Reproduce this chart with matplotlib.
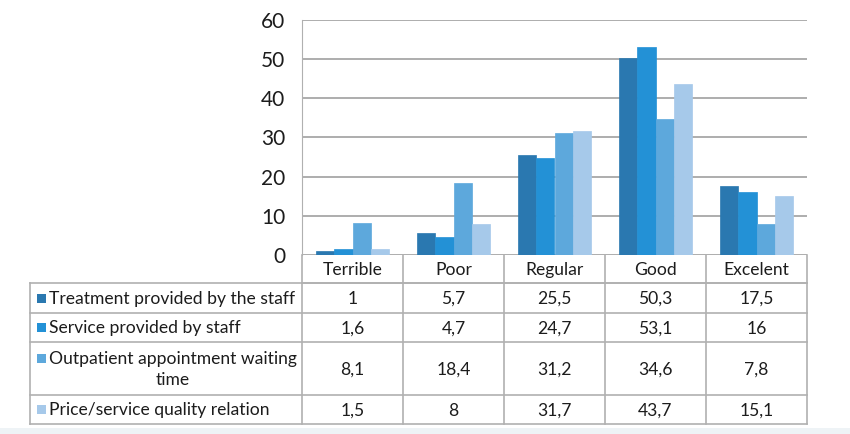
import matplotlib
matplotlib.use("Agg")
from matplotlib import pyplot as plt
from matplotlib.patches import Rectangle
import numpy as np

categories = ["Terrible", "Poor", "Regular", "Good", "Excelent"]
series_names = ["Treatment provided by the staff",
                "Service provided by staff",
                "Outpatient appointment waiting\ntime",
                "Price/service quality relation"]
treatment = [1, 5.7, 25.5, 50.3, 17.5]
service = [1.6, 4.7, 24.7, 53.1, 16]
waiting = [8.1, 18.4, 31.2, 34.6, 7.8]
price = [1.5, 8, 31.7, 43.7, 15.1]
series = [treatment, service, waiting, price]
colors = ["#2a78b0", "#2391d6", "#5da8dc", "#a6c9ea"]

plt.rcParams['font.family'] = ['Lato', 'DejaVu Sans']
txt_c = '#1c1c1c'

W, H = 850, 434
fig = plt.figure(figsize=(W / 100, H / 100), dpi=100)

# pixel layout
px_left, px_right, px_top, px_zero = 302, 807, 20, 255
ax = fig.add_axes([px_left / W, 1 - px_zero / H,
                   (px_right - px_left) / W, (px_zero - px_top) / H])

x = np.arange(len(categories))
bw = 0.18
for i, vals in enumerate(series):
    ax.bar(x + (i - 1.5) * bw, vals, bw, color=colors[i], zorder=3,
           edgecolor=colors[i], linewidth=0.5)

ax.set_xlim(-0.5, len(categories) - 0.5)
ax.set_ylim(0, 60)
ax.set_yticks(range(0, 61, 10))
ax.set_xticks([])
ax.tick_params(axis='y', length=0, labelsize=15, pad=12, labelcolor=txt_c)
ax.grid(axis='y', color='#a0a0a0', linewidth=1.2, zorder=0)
for s in ['top', 'right', 'bottom']:
    ax.spines[s].set_visible(False)
ax.spines['left'].set_color('#b0b0b0')

# data table underneath
tax = fig.add_axes([0, 0, 1, 1])
tax.set_xlim(0, W)
tax.set_ylim(H, 0)
tax.axis('off')
tax.add_patch(Rectangle((0, 428), W, 6, color='#eef3f6', lw=0))

line_c = '#b0b0b0'
col_w = (px_right - px_left) / len(categories)
row_edges = [283, 313, 342, 395, 424]
tab_left = 30
fs = 12.6
line_h = 21

# header row (categories)
tax.plot([px_left, px_right], [283, 283], color=line_c, lw=1.2)
for j in range(len(categories) + 1):
    xx = px_left + j * col_w
    tax.plot([xx, xx], [px_zero, row_edges[-1]], color=line_c, lw=1.2)
for j, c in enumerate(categories):
    tax.text(px_left + (j + 0.5) * col_w, (px_zero + 283) / 2 + 1, c,
             ha='center', va='center', fontsize=fs, color=txt_c)

for r in row_edges:
    tax.plot([tab_left, px_right], [r, r], color=line_c, lw=1.2)
tax.plot([tab_left, tab_left], [row_edges[0], row_edges[-1]], color=line_c, lw=1.2)

for i, name in enumerate(series_names):
    yc = (row_edges[i] + row_edges[i + 1]) / 2
    n_lines = name.count('\n') + 1
    sw_y = yc - (n_lines - 1) * line_h / 2
    tax.add_patch(Rectangle((37, sw_y - 4.5), 9, 9, color=colors[i], lw=0))
    tax.text(49, yc + 1, name, ha='left', va='center', fontsize=fs,
             multialignment='center', linespacing=1.45, color=txt_c)
    for j, v in enumerate(series[i]):
        label = f"{v:g}".replace('.', ',')
        tax.text(px_left + (j + 0.5) * col_w, yc + 1, label,
                 ha='center', va='center', fontsize=fs, color=txt_c)

fig.savefig("out.png", dpi=100)
